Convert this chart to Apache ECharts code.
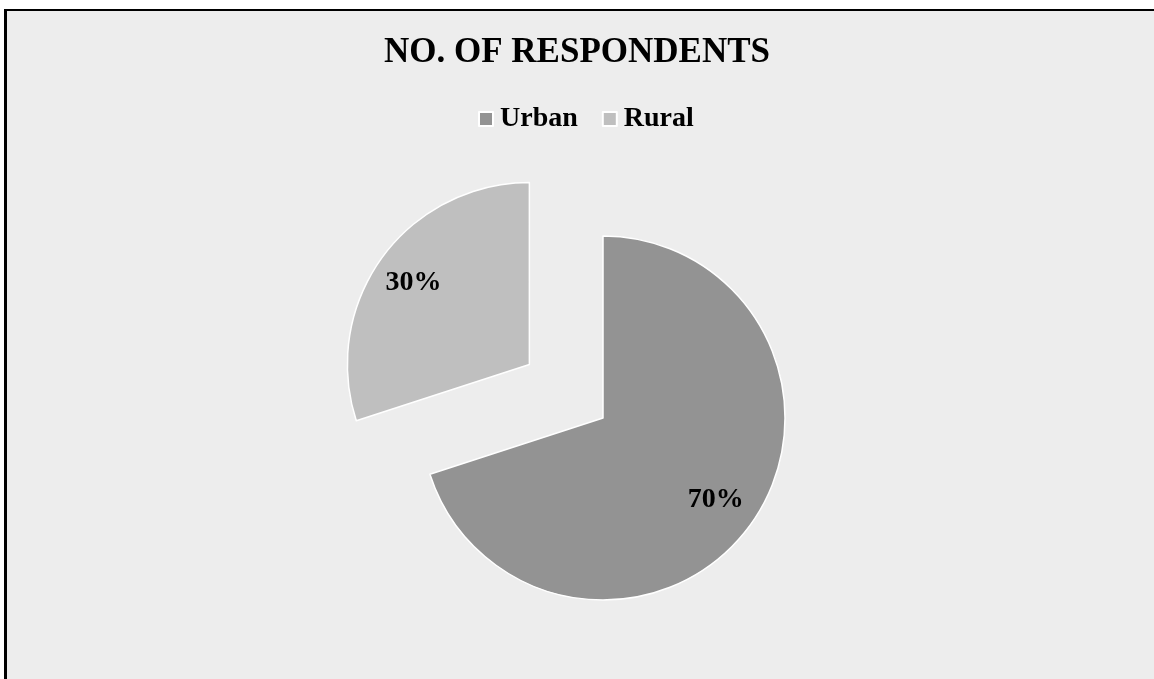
<!DOCTYPE html>
<html><head><meta charset="utf-8">
<script src="https://cdn.jsdelivr.net/npm/echarts@6/dist/echarts.min.js"></script>
<style>
html,body{margin:0;padding:0;background:#fff;overflow:hidden;}
#bg{position:absolute;left:4px;top:9px;width:1160px;height:680px;background:#EDEDED;border-top:2px solid #000;border-left:3px solid #000;}
#chart{position:absolute;left:0;top:0;width:1154px;height:679px;}
</style></head>
<body>
<div id="bg"></div>
<div id="chart"></div>
<script>
const categories = ['Urban', 'Rural'];
const values = [70, 30];
const colors = ['#939393', '#BFBFBF'];
const titleText = 'NO. OF RESPONDENTS';

const font = '"Liberation Serif", "Times New Roman", serif';
const chart = echarts.init(document.getElementById('chart'), null, {renderer: 'canvas'});
const pieData = categories.map((c, i) => ({name: c, value: values[i], selected: i === 1, itemStyle: {color: colors[i]}}));
const labelData = categories.map((c, i) => ({name: c, value: values[i], selected: i === 1,
  label: i === 1 ? {padding: [14, 6, 0, 0]} : {}}));

chart.setOption({
  backgroundColor: 'transparent',
  animation: false,
  title: {
    text: titleText, left: 'center', top: 30,
    textStyle: {fontFamily: font, fontWeight: 'bold', fontSize: 35, color: '#000'}
  },
  legend: {
    data: categories, left: 473, top: 100, icon: 'rect', itemWidth: 14, itemHeight: 14, itemGap: 24,
    selectedMode: false,
    textStyle: {fontFamily: font, fontWeight: 'bold', fontSize: 28, color: '#000', padding: [0, 0, 0, 2]}
  },
  series: [
    {
      type: 'pie', center: [603, 418], radius: 182, startAngle: 90, clockwise: true,
      selectedMode: 'single', selectedOffset: 91,
      itemStyle: {borderColor: '#ffffff', borderWidth: 1.5},
      label: {show: false}, labelLine: {show: false},
      emphasis: {disabled: true},
      data: pieData
    },
    {
      type: 'pie', center: [603, 418], radius: [91, 182], startAngle: 90, clockwise: true,
      selectedMode: 'single', selectedOffset: 91, silent: true,
      itemStyle: {color: 'rgba(0,0,0,0)', borderWidth: 0},
      label: {show: true, position: 'inside', formatter: '{d}%', fontFamily: font, fontWeight: 'bold', fontSize: 28, color: '#000'},
      labelLine: {show: false},
      emphasis: {disabled: true},
      legendHoverLink: false,
      data: labelData
    }
  ]
});
</script>
</body></html>
